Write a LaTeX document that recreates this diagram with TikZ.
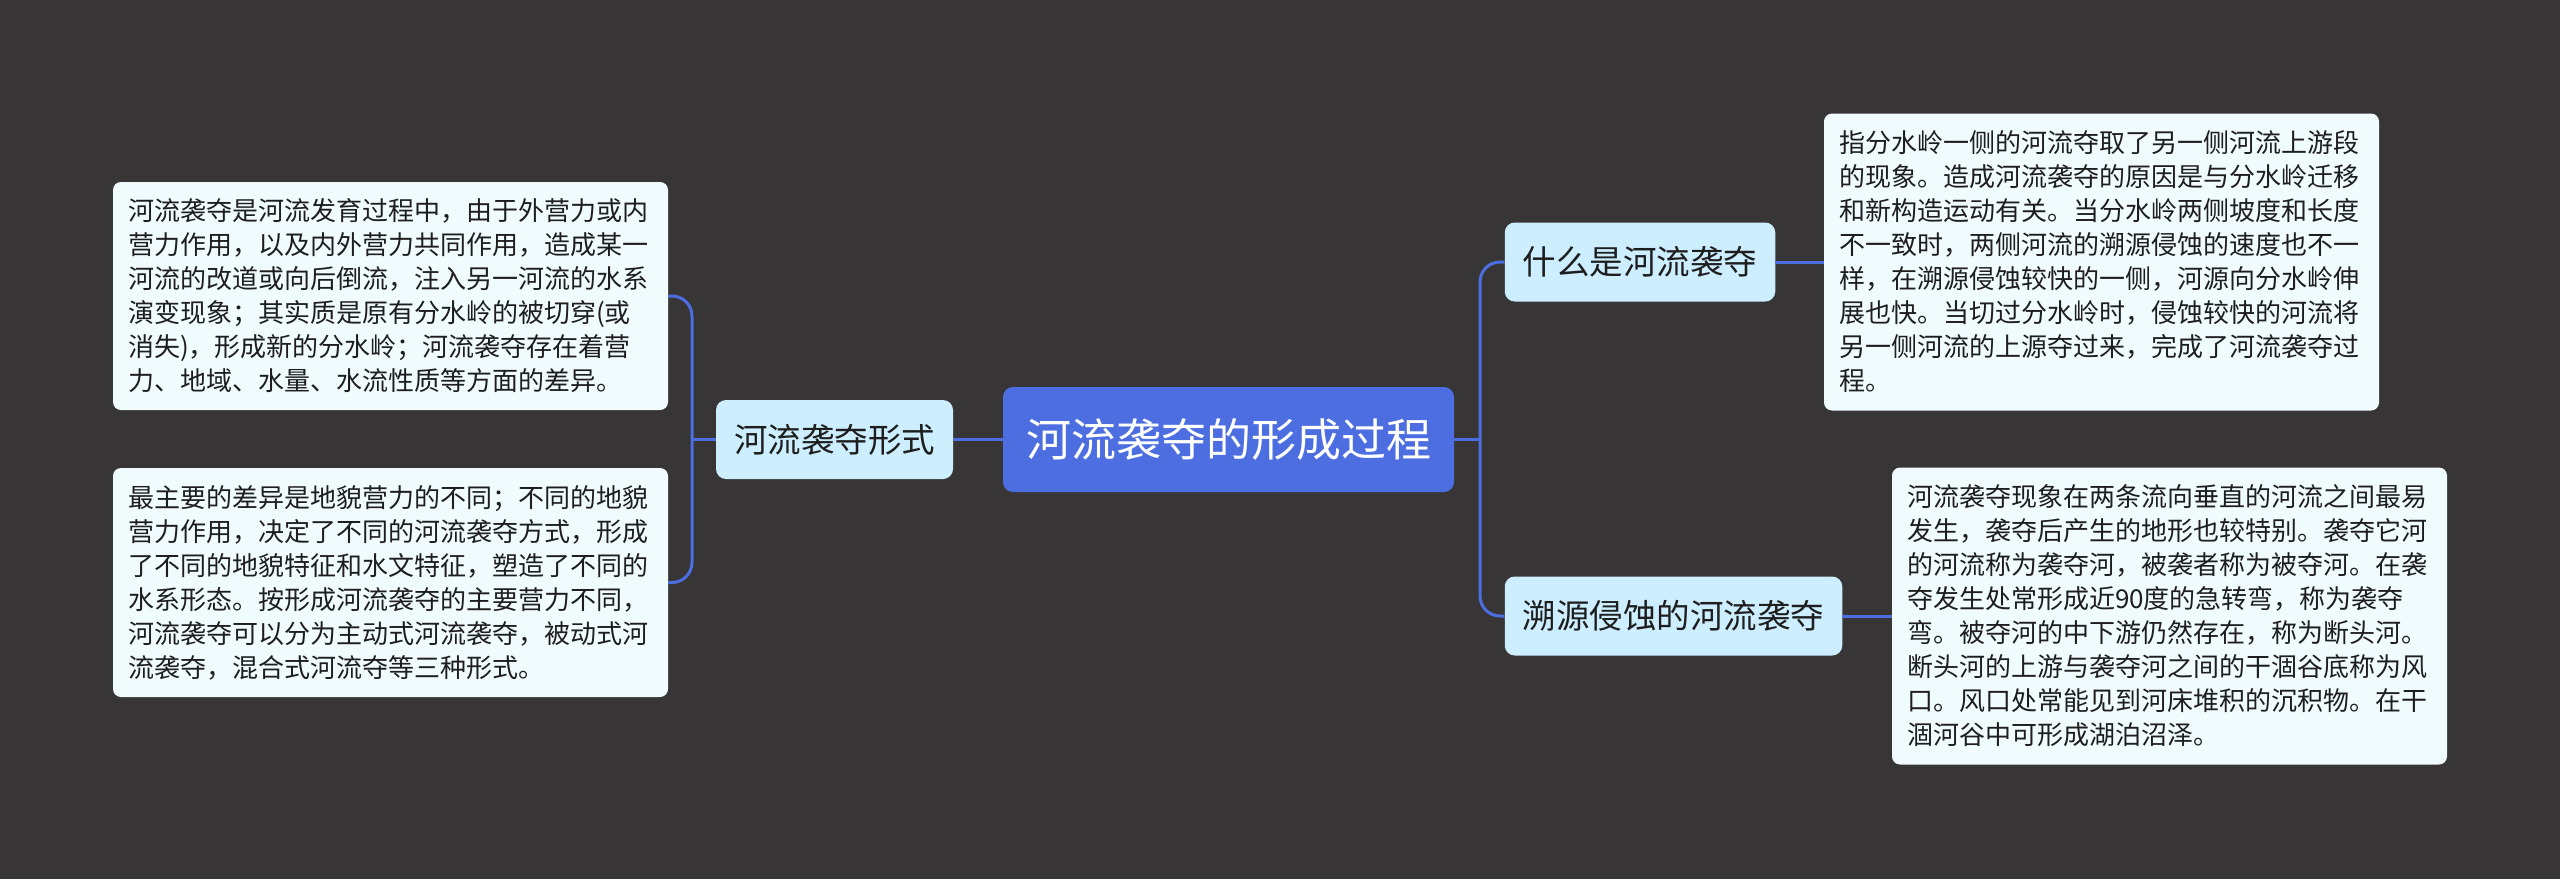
\documentclass[tikz,border=0pt]{standalone}
\usepackage{fontspec}
\setmainfont{Noto Sans CJK SC}
\definecolor{bgc}{HTML}{373536}
\definecolor{rootc}{HTML}{4C6EE0}
\definecolor{childc}{HTML}{CCEEFE}
\definecolor{leafc}{HTML}{F0FBFE}
\definecolor{linec}{HTML}{4C6EE0}
\definecolor{txtc}{HTML}{1E1E1E}
\tikzset{
  rootbox/.style={fill=rootc, rounded corners=10pt, text=white, inner sep=0pt,
    minimum width=451pt, minimum height=105pt, font=\fontsize{45pt}{54pt}\selectfont},
  childbox/.style={fill=childc, rounded corners=10pt, text=txtc, inner xsep=18pt, inner ysep=0pt,
    minimum height=79pt, font=\fontsize{33.5pt}{40pt}\selectfont},
  leafbox/.style={fill=leafc, rounded corners=8pt, text=txtc, text width=525pt, align=left,
    inner xsep=15pt, inner ysep=0pt, font=\fontsize{26pt}{34pt}\selectfont},
  conn/.style={draw=linec, line width=3pt, rounded corners=20pt}
}
\begin{document}
\begin{tikzpicture}[x=1pt,y=-1pt]
\useasboundingbox (0,0) rectangle (2560,879);
\fill[bgc] (0,0) rectangle (2560,879);

\node[rootbox] (root) at (1228.5,439.5) {河流袭夺的形成过程};
\node[childbox] (form) at (834.5,439.5) {河流袭夺形式};
\node[childbox] (what) at (1640,262) {什么是河流袭夺};
\node[childbox] (sy) at (1673.5,616) {溯源侵蚀的河流袭夺};

\node[leafbox, minimum height=228pt] (l1) at (390.5,296) {河流袭夺是河流发育过程中，由于外营力或内\\营力作用，以及内外营力共同作用，造成某一\\河流的改道或向后倒流，注入另一河流的水系\\演变现象；其实质是原有分水岭的被切穿(或\\消失)，形成新的分水岭；河流袭夺存在着营\\力、地域、水量、水流性质等方面的差异。};
\node[leafbox, minimum height=229pt] (l2) at (390.5,582.5) {最主要的差异是地貌营力的不同；不同的地貌\\营力作用，决定了不同的河流袭夺方式，形成\\了不同的地貌特征和水文特征，塑造了不同的\\水系形态。按形成河流袭夺的主要营力不同，\\河流袭夺可以分为主动式河流袭夺，被动式河\\流袭夺，混合式河流夺等三种形式。};
\node[leafbox, minimum height=297pt] (r1) at (2101.5,262) {指分水岭一侧的河流夺取了另一侧河流上游段\\的现象。造成河流袭夺的原因是与分水岭迁移\\和新构造运动有关。当分水岭两侧坡度和长度\\不一致时，两侧河流的溯源侵蚀的速度也不一\\样，在溯源侵蚀较快的一侧，河源向分水岭伸\\展也快。当切过分水岭时，侵蚀较快的河流将\\另一侧河流的上源夺过来，完成了河流袭夺过\\程。};
\node[leafbox, minimum height=297pt] (r2) at (2169.5,616) {河流袭夺现象在两条流向垂直的河流之间最易\\发生，袭夺后产生的地形也较特别。袭夺它河\\的河流称为袭夺河，被袭者称为被夺河。在袭\\夺发生处常形成近90度的急转弯，称为袭夺\\弯。被夺河的中下游仍然存在，称为断头河。\\断头河的上游与袭夺河之间的干涸谷底称为风\\口。风口处常能见到河床堆积的沉积物。在干\\涸河谷中可形成湖泊沼泽。};

\coordinate (jL) at (692,439.5);
\coordinate (jR) at (1480,439.5);

\draw[conn] (root.west) -- (form.east);
\draw[conn] (form.west) -- (jL);
\draw[conn] (l1.east) -| (jL) |- (l2.east);
\draw[conn] (root.east) -- (jR);
\draw[conn] (what.west) -| (jR) |- (sy.west);
\draw[conn] (what.east) -- (r1.west);
\draw[conn] (sy.east) -- (r2.west);
\end{tikzpicture}
\end{document}
